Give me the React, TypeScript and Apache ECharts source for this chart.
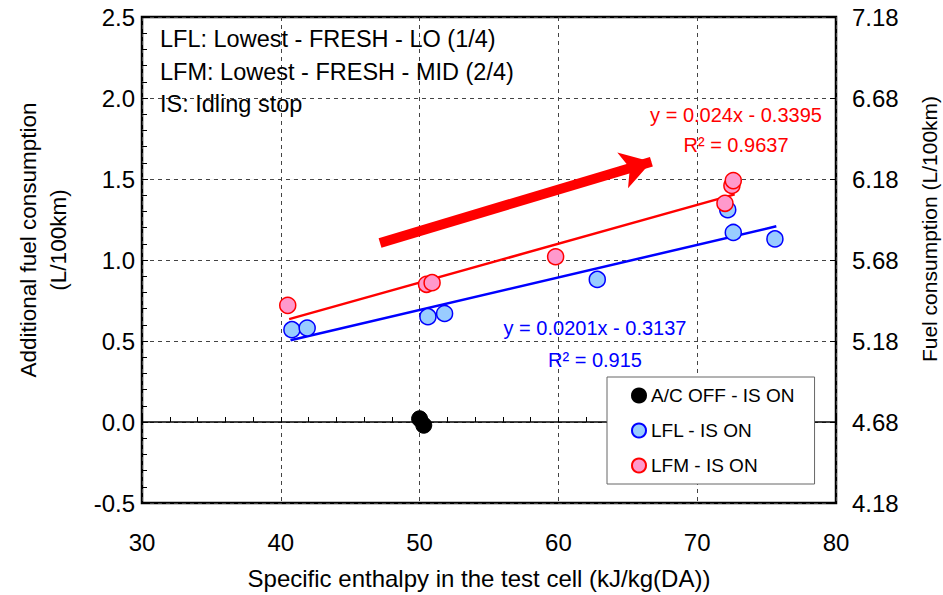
import React, { useEffect, useRef } from "react";
import * as echarts from "echarts";

// ---- data ----
const xTicks = [30, 40, 50, 60, 70, 80];
const yTicksLeft = [-0.5, 0, 0.5, 1.0, 1.5, 2.0, 2.5];
const rightOffset = 4.68; // right axis = left axis + offset (4.18 .. 7.18)

const acOffIsOn = [
  [50.0, 0.02],
  [50.3, -0.02],
];
const lflIsOn = [
  [40.8, 0.57],
  [41.9, 0.58],
  [50.6, 0.65],
  [51.8, 0.67],
  [62.8, 0.88],
  [72.2, 1.31],
  [72.6, 1.17],
  [75.6, 1.13],
];
const lfmIsOn = [
  [40.5, 0.72],
  [50.5, 0.85],
  [50.9, 0.86],
  [59.8, 1.02],
  [72.0, 1.35],
  [72.5, 1.46],
  [72.6, 1.49],
];

const lfmFit = { slope: 0.024, intercept: -0.3395, r2: "0.9637", xRange: [40.6, 72.7] };
const lflFit = { slope: 0.0201, intercept: -0.3137, r2: "0.915", xRange: [40.7, 75.7] };

const arrowStart = [47.15, 1.105];
const arrowEnd = [66.7, 1.607];

const notes = [
  "LFL: Lowest - FRESH - LO (1/4)",
  "LFM: Lowest - FRESH - MID (2/4)",
  "IS: Idling stop",
];

const FONT = "'Liberation Sans', Arial, sans-serif";

function fitLine(f: { slope: number; intercept: number; xRange: number[] }) {
  return f.xRange.map((x) => [x, f.slope * x + f.intercept]);
}

function fmtEq(f: { slope: number; intercept: number }) {
  return `y = ${f.slope}x - ${Math.abs(f.intercept)}`;
}

export default function App() {
  const ref = useRef<HTMLDivElement>(null);

  useEffect(() => {
    if (!ref.current) return;
    const chart = echarts.init(ref.current, undefined, { renderer: "svg" });

    const dashed = { color: "#444", width: 1, type: [4, 4] as any };

    const option: any = {
      animation: false,
      backgroundColor: "#fff",
      textStyle: { fontFamily: FONT },
      grid: {
        left: 142,
        right: 107,
        top: 17,
        bottom: 92,
        show: true,
        borderColor: "#000",
        borderWidth: 2.5,
        backgroundColor: "transparent",
      },
      legend: {
        data: ["A/C OFF - IS ON", "LFL - IS ON", "LFM - IS ON"],
        orient: "vertical",
        left: 607,
        top: 377,
        icon: "circle",
        itemWidth: 14,
        itemHeight: 14,
        itemGap: 16,
        padding: [9, 20, 9, 24],
        borderColor: "#666",
        borderWidth: 1,
        borderRadius: 0,
        backgroundColor: "#fff",
        textStyle: { fontSize: 19, color: "#000", fontFamily: FONT },
        selectedMode: false,
        z: 10,
      },
      xAxis: [
        {
          type: "value",
          min: 30,
          max: 80,
          interval: 10,
          position: "bottom",
          axisLine: { show: false, onZero: false },
          axisTick: { show: false },
          axisLabel: { fontSize: 24, color: "#000", margin: 27, fontFamily: FONT },
          splitLine: { show: true, lineStyle: dashed },
        },
        {
          type: "value",
          min: 30,
          max: 80,
          interval: 10,
          position: "top",
          axisLine: { show: true, onZero: true, lineStyle: { color: "#000", width: 1.5 } },
          axisTick: { show: true, length: 5, lineStyle: { color: "#000" } },
          minorTick: { show: true, splitNumber: 5, length: 5, lineStyle: { color: "#000" } },
          axisLabel: { show: false },
          splitLine: { show: false },
        },
      ],
      yAxis: [
        {
          type: "value",
          min: yTicksLeft[0],
          max: yTicksLeft[yTicksLeft.length - 1],
          interval: 0.5,
          position: "left",
          axisLine: { show: false, onZero: false },
          axisTick: { show: true, inside: true, length: 6, lineStyle: { color: "#000" } },
          minorTick: { show: true, splitNumber: 5, length: 5, lineStyle: { color: "#000" } },
          axisLabel: {
            fontSize: 24,
            color: "#000",
            margin: 7,
            fontFamily: FONT,
            formatter: (v: number) => v.toFixed(1),
          },
          splitLine: { show: true, lineStyle: dashed },
        },
        {
          type: "value",
          min: yTicksLeft[0],
          max: yTicksLeft[yTicksLeft.length - 1],
          interval: 0.5,
          position: "right",
          axisLine: { show: false, onZero: false },
          axisTick: { show: true, inside: true, length: 6, lineStyle: { color: "#000" } },
          axisLabel: {
            fontSize: 24,
            color: "#000",
            margin: 16,
            fontFamily: FONT,
            formatter: (v: number) => (v + rightOffset).toFixed(2),
          },
          splitLine: { show: false },
        },
      ],
      series: [
        {
          name: "LFL fit",
          type: "line",
          data: fitLine(lflFit),
          symbol: "none",
          silent: true,
          lineStyle: { color: "#0000ff", width: 2.5 },
          z: 3,
        },
        {
          name: "LFM fit",
          type: "line",
          data: fitLine(lfmFit),
          symbol: "none",
          silent: true,
          lineStyle: { color: "#ff0000", width: 2.5 },
          z: 3,
          markLine: {
            silent: true,
            symbol: ["none", "arrow"],
            symbolSize: [28, 30],
            lineStyle: { color: "#ff0000", width: 10, type: "solid" },
            label: { show: false },
            data: [[{ coord: arrowStart }, { coord: arrowEnd }]],
          },
        },
        {
          name: "A/C OFF - IS ON",
          type: "scatter",
          data: acOffIsOn,
          symbolSize: 16,
          itemStyle: { color: "#000", borderColor: "#000", borderWidth: 1, opacity: 1 },
          z: 4,
        },
        {
          name: "LFL - IS ON",
          type: "scatter",
          data: lflIsOn,
          symbolSize: 16,
          itemStyle: { color: "#99ccff", borderColor: "#0000ff", borderWidth: 1.5, opacity: 1 },
          z: 4,
        },
        {
          name: "LFM - IS ON",
          type: "scatter",
          data: lfmIsOn,
          symbolSize: 16,
          itemStyle: { color: "#ff99cc", borderColor: "#ff0000", borderWidth: 1.5, opacity: 1 },
          z: 4,
        },
      ],
      graphic: [
        ...notes.map((t, i) => ({
          type: "text",
          x: 160,
          y: 39 + i * 32.5,
          z: 20,
          style: {
            text: t,
            fontSize: 23.5,
            fontFamily: FONT,
            fill: "#000",
            align: "left",
            verticalAlign: "middle",
          },
        })),
        {
          type: "text",
          x: 736,
          y: 115,
          z: 20,
          style: { text: fmtEq(lfmFit), fontSize: 20, fontFamily: FONT, fill: "#ff0000", align: "center", verticalAlign: "middle" },
        },
        {
          type: "text",
          x: 736,
          y: 145,
          z: 20,
          style: { text: `R² = ${lfmFit.r2}`, fontSize: 20, fontFamily: FONT, fill: "#ff0000", align: "center", verticalAlign: "middle" },
        },
        {
          type: "text",
          x: 595,
          y: 328,
          z: 20,
          style: { text: fmtEq(lflFit), fontSize: 20, fontFamily: FONT, fill: "#0000ff", align: "center", verticalAlign: "middle" },
        },
        {
          type: "text",
          x: 595,
          y: 360,
          z: 20,
          style: { text: `R² = ${lflFit.r2}`, fontSize: 20, fontFamily: FONT, fill: "#0000ff", align: "center", verticalAlign: "middle" },
        },
        {
          type: "text",
          x: 28,
          y: 240,
          rotation: Math.PI / 2,
          style: { text: "Additional fuel consumption", fontSize: 22.5, fontFamily: FONT, fill: "#000", align: "center", verticalAlign: "middle" },
        },
        {
          type: "text",
          x: 58,
          y: 240,
          rotation: Math.PI / 2,
          style: { text: "(L/100km)", fontSize: 22.5, fontFamily: FONT, fill: "#000", align: "center", verticalAlign: "middle" },
        },
        {
          type: "text",
          x: 929,
          y: 229,
          rotation: Math.PI / 2,
          style: { text: "Fuel consumption (L/100km)", fontSize: 21, fontFamily: FONT, fill: "#000", align: "center", verticalAlign: "middle" },
        },
        {
          type: "text",
          x: 479,
          y: 578,
          style: { text: "Specific enthalpy in the test cell (kJ/kg(DA))", fontSize: 24, fontFamily: FONT, fill: "#000", align: "center", verticalAlign: "middle" },
        },
      ],
    };

    chart.setOption(option);
    return () => chart.dispose();
  }, []);

  return (
    <div
      ref={ref}
      style={{ position: "absolute", left: 0, top: 0, width: 943, height: 595, background: "#fff" }}
    />
  );
}
